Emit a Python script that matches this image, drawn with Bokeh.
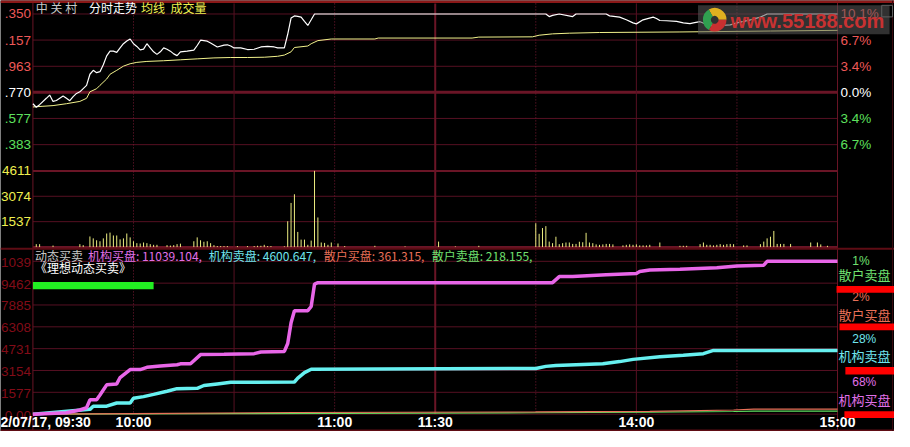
from bokeh.plotting import figure
from bokeh.models import Range1d, ColumnDataSource
from bokeh.core.properties import value
from bokeh.embed import file_html
from bokeh.resources import INLINE

# ------------------------------------------------------------------ data
title_parts = ["中 关 村", "分时走势", "均线", "成交量"]
prev_close = 5.770
price_ticks = [6.350, 6.157, 5.963, 5.770, 5.577, 5.383]
price_tick_labels = [".350", ".157", ".963", ".770", ".577", ".383"]
pct_tick_labels = ["10.1%", "6.7%", "3.4%", "0.0%", "3.4%", "6.7%"]
vol_ticks = [4611, 3074, 1537]
vol_tick_labels = ["4611", "3074", "1537"]
ind_ticks = [11039.104, 9462, 7885, 6308, 4731, 3154, 1577, 0]
ind_tick_labels = ["1039", "9462", "7885", "6308", "4731", "3154", "1577", "0.00"]
first_time_label = "2/07/17, 09:30"
time_ticks = [30, 90, 120, 180, 240]
time_tick_labels = ["10:00", "11:00", "11:30", "14:00", "15:00"]
grid_solid_minutes = [60, 120, 180]
grid_dotted_minutes = [30, 90, 150, 210]

# minute index (0 = 09:30, 120 = 11:30/13:00, 240 = 15:00)
price_minutes = [0, 1, 2, 4, 5, 6, 7, 9, 10, 11, 12, 13, 14, 16, 17, 18, 19, 20, 21, 22,
                 23, 24, 25, 26, 27, 28, 29, 30, 31, 32, 33, 34, 35, 36, 37, 38, 39, 40, 41, 42,
                 43, 44, 46, 48, 49, 50, 52, 53, 55, 57, 58, 59, 60, 62, 64, 66, 68, 70, 72, 73,
                 75, 76, 77, 78, 79, 80, 81, 82, 83, 84, 153, 154, 155, 157, 161, 162, 171, 172, 175, 177,
                 179, 180, 182, 185, 186, 187, 189, 192, 194, 196, 197, 199, 201, 203, 205, 208, 210, 212, 214, 217,
                 219, 240]
price_values = [5.686, 5.660, 5.679, 5.726, 5.750, 5.703, 5.710, 5.743, 5.726, 5.708,
                5.738, 5.762, 5.774, 5.822, 5.904, 5.933, 5.916, 5.923, 5.975, 6.040,
                6.075, 6.075, 6.066, 6.100, 6.130, 6.150, 6.165, 6.130, 6.110, 6.085,
                6.090, 6.130, 6.100, 6.070, 6.051, 6.070, 6.099, 6.089, 6.075, 6.055,
                6.042, 6.070, 6.075, 6.082, 6.117, 6.156, 6.149, 6.135, 6.106, 6.120,
                6.122, 6.113, 6.099, 6.099, 6.087, 6.089, 6.106, 6.110, 6.106, 6.099,
                6.099, 6.200, 6.320, 6.336, 6.333, 6.327, 6.295, 6.265, 6.307, 6.350,
                6.350, 6.331, 6.340, 6.350, 6.331, 6.350, 6.350, 6.336, 6.327, 6.307,
                6.284, 6.277, 6.307, 6.327, 6.317, 6.302, 6.300, 6.295, 6.284, 6.279,
                6.284, 6.293, 6.272, 6.260, 6.265, 6.270, 6.284, 6.295, 6.307, 6.327,
                6.350, 6.350]

avg_minutes = [0, 3, 6, 10, 14, 16, 17, 19, 20, 22, 23, 25, 27, 29, 31, 34, 39, 44, 49, 54,
               59, 64, 69, 73, 75, 77, 78, 82, 83, 85, 89, 102, 103, 131, 133, 149, 151, 155, 160, 169,
               193, 220, 240]
avg_values = [5.662, 5.667, 5.672, 5.686, 5.703, 5.726, 5.774, 5.797, 5.822, 5.869,
              5.904, 5.933, 5.964, 5.982, 5.992, 5.999, 6.004, 6.011, 6.018, 6.025,
              6.028, 6.028, 6.030, 6.037, 6.046, 6.070, 6.102, 6.113, 6.130, 6.153,
              6.165, 6.165, 6.172, 6.172, 6.179, 6.181, 6.193, 6.203, 6.208, 6.213,
              6.217, 6.224, 6.229]

vol_minutes = [1, 2, 6, 14, 15, 17, 18, 19, 20, 21, 22, 23, 24, 25, 26, 27, 28, 29, 30, 31,
               32, 33, 34, 35, 36, 37, 40, 41, 42, 43, 44, 48, 49, 50, 51, 52, 53, 54, 55, 56,
               57, 58, 61, 64, 66, 67, 68, 69, 70, 71, 75, 76, 77, 78, 79, 80, 81, 82, 83, 84,
               85, 86, 87, 88, 89, 91, 93, 102, 111, 121, 126, 133, 150, 151, 152, 153, 154, 155, 156, 157,
               158, 159, 160, 161, 162, 163, 164, 165, 166, 167, 168, 169, 170, 171, 172, 173, 176, 177, 178, 179,
               180, 181, 182, 183, 184, 187, 193, 194, 195, 199, 200, 201, 202, 203, 204, 205, 206, 207, 208, 209,
               212, 213, 217, 218, 219, 220, 221, 222, 223, 224, 226, 232, 234, 235, 237]
vol_values = [175, 175, 90, 175, 115, 640, 525, 410, 350, 525, 820, 875, 700, 700, 465, 525, 820, 585, 350, 235,
              215, 275, 235, 175, 135, 135, 115, 90, 115, 175, 205, 350, 585, 410, 320, 350, 235, 115, 60, 60,
              60, 60, 60, 60, 60, 75, 75, 135, 60, 60, 45, 1560, 2670, 3195, 915, 450, 450, 135, 390, 4611,
              1790, 275, 250, 135, 275, 215, 60, 75, 40, 330, 40, 75, 1440, 800, 1150, 1265, 330, 235, 625, 175,
              235, 275, 275, 190, 190, 320, 290, 860, 275, 235, 160, 135, 160, 190, 190, 160, 100, 135, 160, 135,
              160, 100, 100, 100, 135, 275, 75, 75, 75, 175, 275, 135, 135, 100, 135, 175, 135, 175, 190, 175,
              100, 100, 175, 330, 525, 625, 975, 190, 190, 190, 190, 275, 275, 160, 75]

ind_title = "动态买卖"
ind_subtitle = "《理想动态买卖》"
series_names = ["机构买盘", "机构卖盘", "散户买盘", "散户卖盘"]
series_totals = [11039.104, 4600.647, 361.315, 218.155]

inst_buy_minutes = [0, 10, 14, 16, 17, 19, 20, 22, 25, 26, 29, 32, 34, 38, 43, 44, 47, 50, 57, 66,
                    68, 75, 76, 77, 78, 82, 83, 84, 85, 155, 157, 161, 171, 180, 181, 184, 193, 204, 210, 218,
                    219, 240]
inst_buy_values = [0, 100, 300, 460, 1035, 1035, 1380, 2117, 2185, 2645, 3220, 3220, 3381, 3473, 3565, 3634, 3634, 4301, 4324, 4370,
                   4485, 4530, 5100, 6600, 7474, 7474, 7774, 9400, 9500, 9500, 9936, 9936, 10074, 10166, 10304, 10419, 10465, 10580, 10695, 10764,
                   11039.104, 11039.104]
inst_sell_minutes = [0, 17, 18, 22, 25, 29, 30, 33, 36, 40, 43, 49, 51, 55, 59, 78, 79, 81, 83, 150,
                     153, 156, 170, 175, 179, 187, 194, 200, 203, 240]
inst_sell_values = [0, 345, 575, 575, 805, 805, 1150, 1265, 1426, 1656, 1840, 1863, 2070, 2185, 2300, 2323, 2600, 3000, 3243, 3300,
                    3450, 3519, 3634, 3795, 3956, 4140, 4255, 4370, 4600.647, 4600.647]
retail_buy_minutes = [0, 30, 78, 150, 184, 209, 215, 240]
retail_buy_values = [0, 40, 120, 160, 200, 300, 361.315, 361.315]
retail_sell_minutes = [0, 60, 150, 184, 209, 215, 240]
retail_sell_values = [0, 40, 100, 150, 190, 218.155, 218.155]

signal_start, signal_end = 0, 36      # green signal bar (minutes)

# ------------------------------------------------------------------ layout (reference pixel geometry)
W, H = 894, 431
REF_W, REF_H = 910, 447
PX_L, PX_R = 33, 852
N_MIN = 240
kx = (PX_R - PX_L) / N_MIN

def lin_range(v_a, y_a, v_b, y_b):
    k = (v_a - v_b) / (y_b - y_a)
    return Range1d(v_a - (REF_H - y_a) * k, v_a + y_a * k)

price_rng = lin_range(price_ticks[0], 14, price_ticks[-1], 149.5)
vol_rng = lin_range(vol_ticks[0], 176.7, 0, 255.7)
ind_rng = lin_range(ind_ticks[0], 270.5, 0, 429)

p = figure(width=W, height=H, x_range=Range1d(-PX_L / kx, (REF_W - PX_L) / kx), y_range=price_rng,
           output_backend="svg", toolbar_location=None, tools="",
           x_axis_location=None, y_axis_location=None, min_border=0,
           background_fill_color="#000000", border_fill_color="#000000", outline_line_color=None)
p.extra_x_ranges = {"px": Range1d(0, REF_W)}
p.extra_y_ranges = {"px": Range1d(REF_H, 0), "vol": vol_rng, "ind": ind_rng}
p.grid.visible = False

GRID = "#561022"
GRID_B = "#6a1526"
GRID_DOT = "#7a1a34"
BORDER = "#8a1818"
CJK = "Noto Sans CJK SC"
LAT = "Liberation Sans"
C_SERIES = ["#e070e8", "#70e4ee", "#e87058", "#70e070"]
C_LINES = ["#e866e8", "#66f0f0", "#e87058", "#60e060"]


def draw_text(x, y, text, color, size="13px", font=LAT, align="left", style="normal",
              xr="default", yr="default", xo=0, yo=0):
    colors = color if isinstance(color, list) else [color] * len(text)
    src = ColumnDataSource(dict(x=x, y=y, text=text, c=colors))
    p.text(x="x", y="y", text="text", text_color="c", source=src, text_font=value(font),
           text_font_size=value(size), text_align=align, text_baseline="middle",
           text_font_style=style, x_offset=xo, y_offset=yo, x_range_name=xr, y_range_name=yr)


def hlines(x0, x1, ys, color, width, xr="default", yr="default", dash="solid"):
    n = len(ys)
    p.segment(x0=[x0] * n, x1=[x1] * n, y0=ys, y1=ys, line_color=color, line_width=width,
              line_dash=dash, x_range_name=xr, y_range_name=yr)


def vlines(xs, y0, y1, color, width, xr="default", yr="px", dash="solid", alpha=1.0):
    n = len(xs)
    p.segment(x0=xs, x1=xs, y0=[y0] * n, y1=[y1] * n, line_color=color, line_width=width,
              line_dash=dash, line_alpha=alpha, x_range_name=xr, y_range_name=yr)

# ---------------- grid & borders
hlines(0, N_MIN, [t for t in price_ticks if t != prev_close], GRID, 1)
hlines(0, N_MIN, [prev_close], GRID_B, 3)
hlines(0, N_MIN, vol_ticks[1:], GRID, 1, yr="vol")
hlines(0, N_MIN, [vol_ticks[0], 0], GRID_B, 2, yr="vol")
hlines(0, N_MIN, ind_ticks, GRID, 1, yr="ind")
vlines(grid_dotted_minutes, 3, 429, GRID_DOT, 1, dash="1 2")
vlines([m for m in grid_solid_minutes if m != 120], 3, 429, GRID, 1)
vlines([120], 3, 429, GRID_B, 2)
vlines([0, N_MIN], 0, REF_H, GRID_B, 1)
hlines(0, REF_W, [1], BORDER, 3, xr="px", yr="px")
hlines(0, REF_W, [257.5], "#5e0c14", 2, xr="px", yr="px")
hlines(0, REF_W, [446], "#5e0c14", 2, xr="px", yr="px")
vlines([908], 0, REF_H, "#3a0a10", 1, xr="px")

# ---------------- price panel
p.line(avg_minutes, avg_values, line_color="#f2f28c", line_width=1)
p.line(price_minutes, price_values, line_color="#ffffff", line_width=1.2)

# ---------------- volume panel
p.segment(x0=vol_minutes, x1=vol_minutes, y0=[0] * len(vol_minutes), y1=vol_values,
          line_color="#ecec80", line_width=1, y_range_name="vol")

# ---------------- indicator panel
p.line(retail_sell_minutes, retail_sell_values, line_color=C_LINES[3], line_width=1.2, y_range_name="ind")
p.line(retail_buy_minutes, retail_buy_values, line_color=C_LINES[2], line_width=1.2, y_range_name="ind")
p.line(inst_sell_minutes, inst_sell_values, line_color=C_LINES[1], line_width=3.5, y_range_name="ind")
p.line(inst_buy_minutes, inst_buy_values, line_color=C_LINES[0], line_width=3.5, y_range_name="ind")
p.quad(left=[signal_start], right=[signal_end], top=[292], bottom=[299.5], y_range_name="px",
       fill_color="#22f022", line_color=None)

# ---------------- tick labels
pos, neg = "#ee5858", "#5ee05e"
draw_text([0] * 6, price_ticks, price_tick_labels, [pos, pos, pos, "#ffffff", neg, neg],
          size="13.5px", align="right", xo=-2)
draw_text([N_MIN] * 6, price_ticks, pct_tick_labels, [pos, pos, pos, "#ffffff", neg, neg],
          size="13.5px", align="left", xo=3)
draw_text([0] * 3, vol_ticks, vol_tick_labels, "#f0f050", size="13.5px", align="right", xo=-2, yr="vol")
draw_text([0] * len(ind_ticks), ind_ticks, ind_tick_labels, "#820c18", size="13.5px",
          align="right", xo=-2, yo=1, yr="ind")
draw_text([0], [437], [first_time_label], "#ffffff", size="14px", style="bold", xr="px", yr="px")
draw_text(time_ticks, [437] * len(time_ticks), time_tick_labels, "#ffffff", size="14px",
          style="bold", align="center", yr="px")

# ---------------- header texts
draw_text([36, 90, 143, 173], [7] * 4, title_parts, ["#c8c8c8", "#ffffff", "#f0f050", "#f0f050"],
          size="12px", font=CJK, xr="px", yr="px")
seg_text = [f"{n}: {v:.3f}," for n, v in zip(series_names, series_totals)]
draw_text([35], [264], [ind_title], "#c8c8c8", size="12px", font=CJK, xr="px", yr="px")
draw_text([89, 212, 329, 439], [264] * 4, seg_text, C_SERIES, size="12px", font=CJK, xr="px", yr="px")
draw_text([35], [277], [ind_subtitle], "#ffffff", size="12px", font=CJK, xr="px", yr="px")

# ---------------- right-hand legend of the indicator
total = sum(series_totals)
order = [3, 2, 1, 0]
pcts = [f"{round(series_totals[i] / total * 100)}%" for i in order]
draw_text([867] * 4, [270.5, 308, 351, 396], pcts, [C_SERIES[i] for i in order],
          size="12px", xr="px", yr="px")
draw_text([853] * 4, [284, 326, 368, 414], [series_names[i] for i in order], [C_SERIES[i] for i in order],
          size="13px", font=CJK, xr="px", yr="px")
p.quad(left=[851, 854, 860, 859], right=[910] * 4, top=[296, 335, 380, 426], bottom=[303, 342, 388, 433],
       fill_color="#ff0000", line_color=None, x_range_name="px", y_range_name="px")

# ---------------- watermark
p.quad(left=[710], right=[905], top=[5], bottom=[35], fill_color="#5a5a5a", fill_alpha=0.55,
       line_color=None, x_range_name="px", y_range_name="px")
p.annular_wedge(x=[727] * 3, y=[20] * 3, inner_radius=4, outer_radius=12,
                start_angle=[0, 2.1, 4.2], end_angle=[2.1, 4.2, 6.28],
                fill_color=["#e0b020", "#30a050", "#c83030"], line_color=None,
                x_range_name="px", y_range_name="px")
draw_text([743], [21], ["www.55188.com"], "#c83232", size="20px", style="bold", xr="px", yr="px")
p.quad(left=[897], right=[908], top=[5], bottom=[17], fill_color=None, line_color="#606060",
       x_range_name="px", y_range_name="px")

open("out.html", "w").write(file_html(p, INLINE))
